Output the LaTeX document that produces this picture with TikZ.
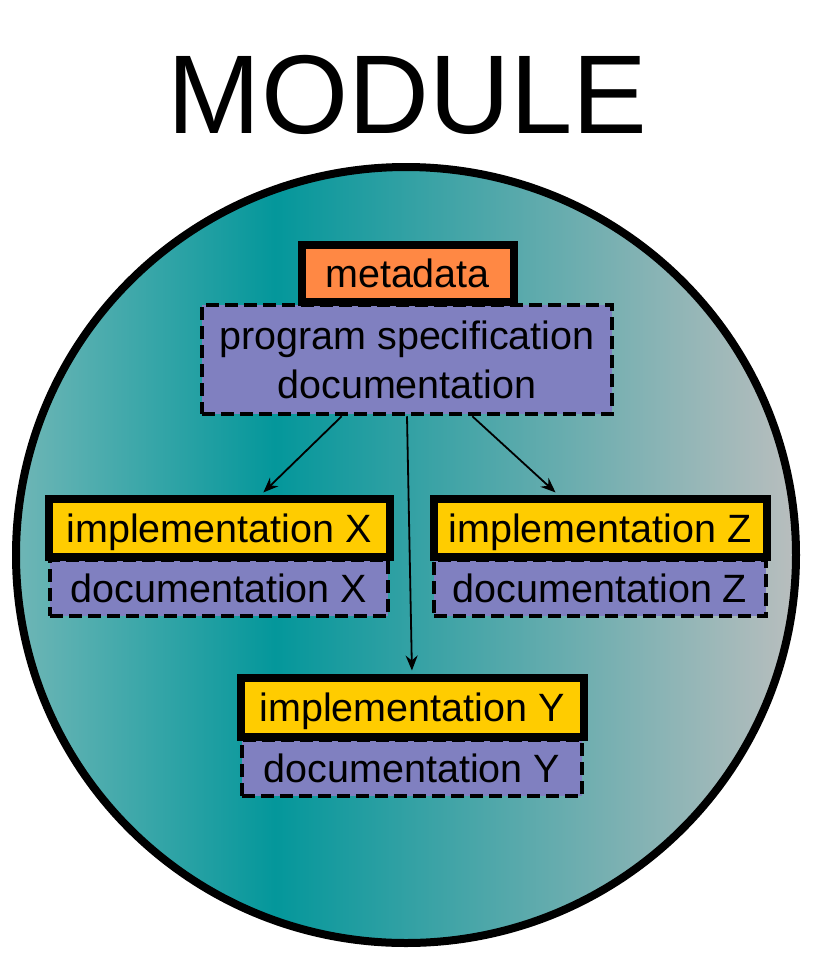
\documentclass[tikz,border=0pt]{standalone}
\usepackage{fontspec}
\setmainfont{Liberation Sans}
\usetikzlibrary{arrows.meta}

\definecolor{modleft}{HTML}{6FB6B6}
\definecolor{moddark}{HTML}{04979B}
\definecolor{modright}{HTML}{B9BEBE}
\definecolor{metaorange}{HTML}{FF8844}
\definecolor{implyellow}{HTML}{FFCC00}
\definecolor{doclilac}{HTML}{8080C0}

\pgfdeclarehorizontalshading{modshade}{100bp}{color(0bp)=(modleft); color(25bp)=(modleft); color(41.6bp)=(moddark); color(75bp)=(modright); color(100bp)=(modright)}

\tikzset{
  onerow/.style={text height=29pt, text depth=0pt},
  solidbox/.style={rectangle, draw, line width=8pt, inner sep=0pt},
  docbox/.style={rectangle, draw, fill=doclilac, line width=4.5pt, dash pattern=on 13pt off 6pt, inner sep=0pt},
  arr/.style={line width=1.8pt, -{Stealth[length=15pt, width=12pt, inset=5pt]}, shorten >=3pt}
}

\begin{document}
\begin{tikzpicture}[x=1pt, y=-1pt, font=\fontsize{39.5}{49}\selectfont]
\useasboundingbox (0,0) rectangle (814,962);

\node [font=\fontsize{112}{120}\selectfont, anchor=base] (title) at (407.5,133) {MODULE};
\shadedraw [shading=modshade, line width=8pt] (406,555) ellipse [x radius=390, y radius=388];

\node [docbox, minimum width=410, minimum height=109, align=center] (spec) at (407,359.5) {program specification\\documentation};
\node [solidbox, onerow, fill=metaorange, minimum width=212, minimum height=57] (meta) at (407.5,273) {metadata};

\node [docbox, onerow, minimum width=338, minimum height=56] (dx) at (219,588) {documentation X};
\node [solidbox, onerow, fill=implyellow, minimum width=341, minimum height=58] (ix) at (219,527.5) {implementation X};

\node [docbox, onerow, minimum width=332, minimum height=56] (dz) at (600,588) {documentation Z};
\node [solidbox, onerow, fill=implyellow, minimum width=333, minimum height=58] (iz) at (600,527.5) {implementation Z};

\node [docbox, onerow, minimum width=340, minimum height=56] (dy) at (412,768) {documentation Y};
\node [solidbox, onerow, fill=implyellow, minimum width=343, minimum height=59] (iy) at (412,707) {implementation Y};

\draw [arr] (spec.-139) -- (ix.38);
\draw [arr] (spec.south) -- (iy.north);
\draw [arr] (spec.-41) -- (iz.142);
\end{tikzpicture}
\end{document}
